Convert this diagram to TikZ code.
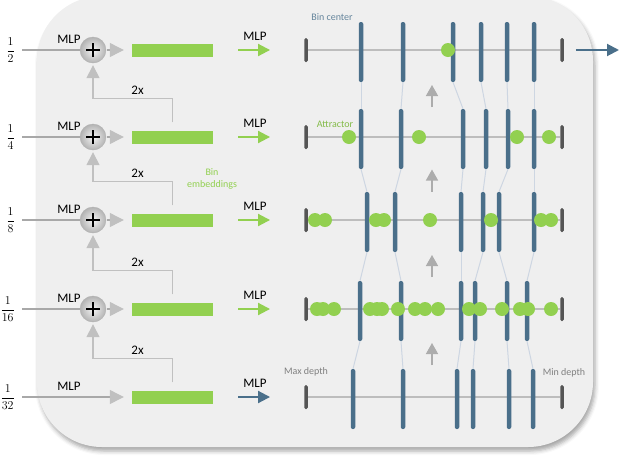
\documentclass[tikz,border=0pt]{standalone}
\usepackage{amsmath}
\usepackage[no-math]{fontspec}
\setmainfont{Carlito}
\usetikzlibrary{arrows.meta,shadows.blur}

\definecolor{bingreen}{HTML}{92D050}
\definecolor{binblue}{HTML}{4A6F8A}
\definecolor{axisgray}{HTML}{BDBDBD}
\definecolor{capgray}{HTML}{555555}
\definecolor{arrgray}{HTML}{C0C0C0}
\definecolor{linegray}{HTML}{A8A8A8}
\definecolor{linkblue}{HTML}{CDD6E2}
\definecolor{panelgray}{HTML}{EFEFEF}

\tikzset{
  txt/.style={font=\fontsize{13}{15}\selectfont, inner sep=1pt, text=black},
  smalltxt/.style={font=\fontsize{10}{12}\selectfont, inner sep=1pt},
  fraclabel/.style={anchor=east, inner sep=0pt, font=\fontsize{12}{14}\selectfont},
  embbar/.style={fill=bingreen, minimum width=81pt, minimum height=13pt, inner sep=0pt},
  sumnode/.style={circle, minimum size=26pt, inner sep=0pt, draw=gray!60,
    inner color=gray!8, outer color=gray!60,
    path picture={\draw[black, line width=1.3pt]
      ([xshift=-7pt]path picture bounding box.center) -- ([xshift=7pt]path picture bounding box.center)
      ([yshift=-7pt]path picture bounding box.center) -- ([yshift=7pt]path picture bounding box.center);}},
  bincenter/.style={fill=binblue, rounded corners=2pt, minimum width=4.5pt, minimum height=60pt, inner sep=0pt},
  endcap/.style={fill=capgray, rounded corners=1.5pt, minimum width=3.5pt, minimum height=24pt, inner sep=0pt},
  attractor/.style={circle, fill=bingreen, minimum size=14pt, inner sep=0pt},
  axisline/.style={axisgray, line width=2.5pt},
  binlink/.style={linkblue, line width=1pt},
  inline/.style={linegray, line width=1.2pt, shorten <=7pt},
  sumarrow/.style={linegray, line width=1.2pt, -{Triangle[length=14pt,width=14pt,color=arrgray]}, shorten >=8pt},
  feedarrow/.style={arrgray, line width=1.5pt, -{Triangle[length=13pt,width=13pt]}, shorten >=2pt},
  mlparrow/.style={line width=2pt, -{Triangle[length=12pt,width=12pt]}, shorten <=25pt, shorten >=34pt},
  uparrow/.style={gray!65, line width=1.5pt, -{Triangle[length=11pt,width=12pt]}},
}

\begin{document}
\begin{tikzpicture}[x=1pt, y=-1pt]
\useasboundingbox (0,0) rectangle (619,456);

% Panel behind the whole diagram
\fill[panelgray, rounded corners=65pt,
  blur shadow={shadow xshift=2pt, shadow yshift=-4pt, shadow blur radius=4pt, shadow opacity=35}]
  (37,-4) rectangle (593,447);

% Rows: input scale, bin embedding, depth axis
\foreach \r/\y/\d in {1/50/2,2/137/4,3/220/8,4/309/16,5/397/32}{
  \node[fraclabel] (f\r) at (15,\y) {$\dfrac{1}{\d}$};
  \node[embbar] (e\r) at (172.5,\y) {};
  \node[txt] (ml\r) at (69,\y-11) {MLP};
  \node[txt] (mr\r) at (255,\y-14) {MLP};
  \node[endcap] (l\r) at (306,\y) {};
  \node[endcap] (r\r) at (562,\y) {};
  \draw[axisline] (l\r) -- (r\r);
}

% Sum nodes for the upper four scales
\foreach \r/\y in {1/50,2/137,3/220,4/309}{
  \node[sumnode] (p\r) at (93,\y) {};
  \draw[inline] (f\r.east) -- (p\r.west);
  \draw[sumarrow, shorten <=1pt] (p\r.east) -- (e\r.west);
}
\draw[sumarrow, shorten <=7pt] (f5.east) -- (e5.west);

% Upsampled embeddings fed to the scale above
\foreach \r [evaluate=\r as \up using int(\r-1)] in {2,3,4,5}
  \draw[feedarrow] (e\r.north) ++(0,-8) -- ++(0,-24)
    -| node[txt, pos=0.22, above=2pt] (x\r) {2x} (p\up.south);

% MLP heads
\foreach \r in {1,...,4}
  \draw[mlparrow, bingreen] (e\r.east) -- (l\r.west);
\draw[mlparrow, binblue] (e5.east) -- (l5.west);

\node[smalltxt, bingreen, align=center] (be) at (212,179) {Bin\\embeddings};

% Bin centers per scale
\foreach \r/\y/\xs in {1/50/{361,403,453,481,507,534},
                       2/137/{361,401,463,486,508,534},
                       3/220/{367,395,461,483,499,534},
                       4/309/{360,401,461,475,507,527},
                       5/397/{353,403,457,473,509,533}}
  \foreach \x [count=\i] in \xs
    \node[bincenter] (b\r-\i) at (\x,\y+2) {};

% Links between matching bin centers
\foreach \r [evaluate=\r as \nx using int(\r+1)] in {1,...,4}
  \foreach \i in {1,...,6}
    \draw[binlink] (b\r-\i.south) -- (b\nx-\i.north);

% Attractors
\foreach \r/\y/\xs in {1/50/{448},
                       2/137/{349,419,517,549},
                       3/220/{315,325,376,384,430,491,541,551},
                       4/309/{317,323,334,370,377,382,398,415,425,438,469,480,502,520,528,551}}
  \foreach \x in \xs
    \node[attractor] (a\r-\x) at (\x,\y) {};

% Refinement arrows between scales
\foreach \r/\yc in {1/96,2/180.5,3/266,4/354}{
  \coordinate (ub\r) at (432,\yc+11);
  \coordinate (ut\r) at (432,\yc-11);
  \draw[uparrow] (ub\r) -- (ut\r);
}

% Output
\coordinate (out) at (619,50);
\draw[mlparrow, binblue, shorten <=12pt, shorten >=0pt] (r1.east) -- (out);

% Axis labels
\node[smalltxt, binblue!85] (bc) at (332,17) {Bin center};
\node[smalltxt, bingreen!90!black] (at) at (335,124) {Attractor};
\node[smalltxt, gray] (mx) at (306,372) {Max depth};
\node[smalltxt, gray] (mn) at (564,373) {Min depth};
\end{tikzpicture}
\end{document}
